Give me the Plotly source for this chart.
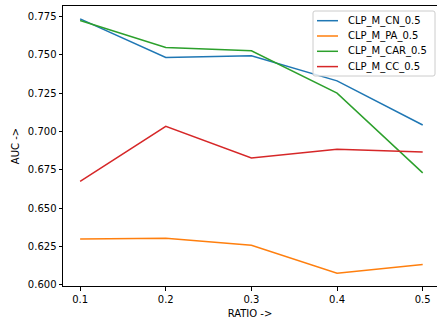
import plotly.graph_objects as go

# AUC per ratio for each CLP model variant
ratios = [0.1, 0.2, 0.3, 0.4, 0.5]
auc_cn = [0.7734, 0.7482, 0.7493, 0.7330, 0.7042]
auc_pa = [0.6298, 0.6304, 0.6257, 0.6075, 0.6133]
auc_car = [0.7723, 0.7547, 0.7526, 0.7250, 0.6730]
auc_cc = [0.6675, 0.7033, 0.6827, 0.6883, 0.6866]

names = ["CLP_M_CN_0.5", "CLP_M_PA_0.5", "CLP_M_CAR_0.5", "CLP_M_CC_0.5"]
values = [auc_cn, auc_pa, auc_car, auc_cc]
colors = ["#1f77b4", "#ff7f0e", "#2ca02c", "#d62728"]

y_ticks = [0.600, 0.625, 0.650, 0.675, 0.700, 0.725, 0.750, 0.775]
x_ticks = [0.1, 0.2, 0.3, 0.4, 0.5]

W, H = 437, 325
L, R, T, B = 63, 0, 6, 39
PW, PH = W - L - R, H - T - B


def px(x):
    """Pixel column -> paper fraction."""
    return (x - L) / PW


def py(y):
    """Pixel row -> paper fraction."""
    return (H - B - y) / PH


fig = go.Figure()
for name, vals, color in zip(names, values, colors):
    fig.add_trace(go.Scatter(
        x=ratios, y=vals, mode="lines", name=name,
        line=dict(color=color, width=1.5),
        showlegend=False,
    ))

font = dict(family="DejaVu Sans", size=10, color="black")

# Boxed legend in the upper-right corner
box_l, box_r, box_t, box_b = 313, 435, 11, 76
rad = 2
shapes = [dict(
    type="path", xref="paper", yref="paper",
    path=(f"M {px(box_l + rad)} {py(box_t)} L {px(box_r - rad)} {py(box_t)} "
          f"Q {px(box_r)} {py(box_t)} {px(box_r)} {py(box_t + rad)} "
          f"L {px(box_r)} {py(box_b - rad)} "
          f"Q {px(box_r)} {py(box_b)} {px(box_r - rad)} {py(box_b)} "
          f"L {px(box_l + rad)} {py(box_b)} "
          f"Q {px(box_l)} {py(box_b)} {px(box_l)} {py(box_b - rad)} "
          f"L {px(box_l)} {py(box_t + rad)} "
          f"Q {px(box_l)} {py(box_t)} {px(box_l + rad)} {py(box_t)} Z"),
    fillcolor="rgba(255,255,255,0.8)", line=dict(color="#cccccc", width=1),
    layer="above",
)]
annotations = []
row0, row_step = 20.7, 15.3
for i, (name, color) in enumerate(zip(names, colors)):
    yc = row0 + i * row_step
    shapes.append(dict(
        type="line", xref="paper", yref="paper",
        x0=px(317), x1=px(338), y0=py(yc), y1=py(yc),
        line=dict(color=color, width=1.5), layer="above",
    ))
    annotations.append(dict(
        xref="paper", yref="paper", x=px(346), y=py(yc),
        text=name, showarrow=False, xanchor="left", yanchor="middle",
        font=font,
    ))

fig.update_layout(
    width=W, height=H,
    margin=dict(l=L, r=R, t=T, b=B),
    paper_bgcolor="white", plot_bgcolor="white",
    font=font,
    shapes=shapes,
    annotations=annotations,
    xaxis=dict(
        range=[0.08, 0.5167],
        tickvals=x_ticks, ticktext=[f"{v:.1f}" for v in x_ticks],
        showgrid=False, zeroline=False,
        showline=True, mirror=True, linecolor="black", linewidth=1,
        ticks="outside", ticklen=3.5, tickwidth=1, tickcolor="black",
        title=dict(text="RATIO ->", standoff=6, font=font),
    ),
    yaxis=dict(
        range=[0.5992, 0.7818],
        tickvals=y_ticks, ticktext=[f"{v:.3f}" for v in y_ticks],
        showgrid=False, zeroline=False,
        showline=True, mirror=False, linecolor="black", linewidth=1,
        ticks="outside", ticklen=3.5, tickwidth=1, tickcolor="black",
        title=dict(text="AUC ->", standoff=6, font=font),
    ),
)

fig.write_html("out.html")
